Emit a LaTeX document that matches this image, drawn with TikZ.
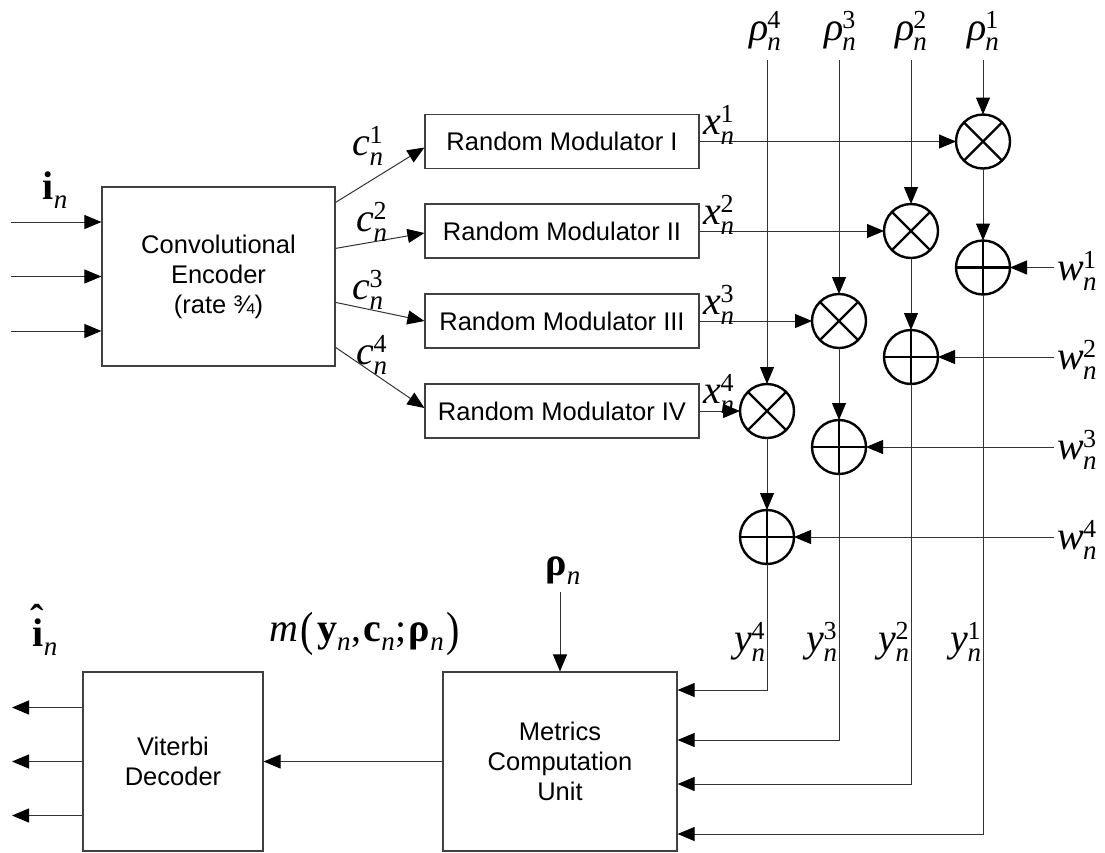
\documentclass[tikz,border=0pt]{standalone}
\usepackage{graphicx}
\usepackage{fontspec}
\setmainfont{Liberation Serif}
\setsansfont{Liberation Sans}
\usetikzlibrary{arrows.meta,calc}

% stacked superscript / subscript after a base symbol
\newcommand\supsub[2]{\makebox[0pt][l]{\raisebox{12pt}{\fontsize{26}{26}\selectfont #1}}%
  \raisebox{-10pt}{\fontsize{27}{27}\selectfont\itshape #2}}
\newcommand\subn{\raisebox{-9pt}{\fontsize{27}{27}\selectfont\itshape n}}
% italic base with index above and n below
\newcommand\lbl[3]{\textit{#1}\kern-1pt\supsub{#2}{#3}}
% bold base with subscript n
\newcommand\bsym[1]{\textbf{#1}\subn}
\newcommand\bigparen[1]{\raisebox{-4pt}{\scalebox{1}[1.2]{#1}}}

\begin{document}
\begin{tikzpicture}[x=1pt,y=-1pt,
  wire/.style={draw=black!80, line width=1pt},
  arr/.style={wire, -{Triangle[length=17pt,width=14pt,color=black]}},
  blk/.style={draw=black!75, line width=1.2pt, align=center, inner sep=0pt,
    font=\sffamily\fontsize{25.5}{30}\selectfont},
  mult/.style={circle, draw, line width=2.4pt, minimum size=54pt, inner sep=0pt, outer sep=0pt,
    path picture={\draw[line width=2.4pt]
      (path picture bounding box.north west)--(path picture bounding box.south east)
      (path picture bounding box.north east)--(path picture bounding box.south west);}},
  add/.style={circle, draw, line width=2.4pt, minimum size=54pt, inner sep=0pt, outer sep=0pt,
    path picture={\draw[line width=2.4pt]
      (path picture bounding box.north)--(path picture bounding box.south)
      (path picture bounding box.west)--(path picture bounding box.east);}},
  lab/.style={inner sep=0pt, font=\fontsize{40}{44}\selectfont}]

\useasboundingbox (0,0) rectangle (1105,852);

% ---- encoder and modulators
\node[blk, minimum width=233pt, minimum height=179pt] (enc) at (218.5,276.5)
  {Convolutional\\Encoder\\(rate ¾)};
\node[blk, minimum width=274pt, minimum height=54pt] (mod1) at (562,141.5) {Random Modulator I};
\node[blk, minimum width=274pt, minimum height=54pt] (mod2) at (562,231) {Random Modulator II};
\node[blk, minimum width=274pt, minimum height=54pt] (mod3) at (562,321) {Random Modulator III};
\node[blk, minimum width=274pt, minimum height=54pt] (mod4) at (562,411) {Random Modulator IV};

% ---- multipliers and adders
\node[mult] (m1) at (983,141.5) {};
\node[mult] (m2) at (911,231) {};
\node[mult] (m3) at (839,321) {};
\node[mult] (m4) at (767,411) {};
\node[add] (a1) at (983,267.5) {};
\node[add] (a2) at (911,357) {};
\node[add] (a3) at (839,447) {};
\node[add] (a4) at (767,537) {};

% ---- receiver side
\node[blk, minimum width=234pt, minimum height=179pt] (mcu) at (560,761.5)
  {Metrics\\Computation\\Unit};
\node[blk, minimum width=180pt, minimum height=179pt] (vd) at (173,761.5)
  {Viterbi\\Decoder};

% ---- free ends and corners
\coordinate (in1) at (11,222);
\coordinate (in2) at (11,276.5);
\coordinate (in3) at (11,331);
\coordinate (out1) at (12,707.5);
\coordinate (out2) at (12,761.5);
\coordinate (out3) at (12,815.5);
\coordinate (r1) at (983,60);
\coordinate (r2) at (911,60);
\coordinate (r3) at (839,60);
\coordinate (r4) at (767,60);
\coordinate (w1) at (1054,267.5);
\coordinate (w2) at (1054,357);
\coordinate (w3) at (1054,447);
\coordinate (w4) at (1054,537);
\coordinate (t4) at (767,690);
\coordinate (t3) at (839,740);
\coordinate (t2) at (911,784);
\coordinate (t1) at (983,834);
\coordinate (rn) at (560,592);

% ---- connectors
\draw[arr] (in1) -- (enc.west |- in1);
\draw[arr] (in2) -- (enc.west);
\draw[arr] (in3) -- (enc.west |- in3);

\draw[arr] ($(enc.north east)+(0,16)$) -- ($(mod1.west)+(0,6)$);
\draw[arr] ($(enc.north east)+(0,62)$) -- ($(mod2.west)+(0,2)$);
\draw[arr] ($(enc.north east)+(0,116)$) -- (mod3.west);
\draw[arr] ($(enc.north east)+(0,161)$) -- ($(mod4.west)+(0,-3)$);

\draw[arr] (mod1.east) -- (m1.west);
\draw[arr] (mod2.east) -- (m2.west);
\draw[arr] (mod3.east) -- (m3.west);
\draw[arr] (mod4.east) -- (m4.west);

\draw[arr] (r1) -- (m1.north);
\draw[arr] (r2) -- (m2.north);
\draw[arr] (r3) -- (m3.north);
\draw[arr] (r4) -- (m4.north);

\draw[arr] (m1.south) -- (a1.north);
\draw[arr] (m2.south) -- (a2.north);
\draw[arr] (m3.south) -- (a3.north);
\draw[arr] (m4.south) -- (a4.north);

\draw[arr] (w1) -- (a1.east);
\draw[arr] (w2) -- (a2.east);
\draw[arr] (w3) -- (a3.east);
\draw[arr] (w4) -- (a4.east);

\draw[arr] (a4.south) -- (t4) -- (mcu.east |- t4);
\draw[arr] (a3.south) -- (t3) -- (mcu.east |- t3);
\draw[arr] (a2.south) -- (t2) -- (mcu.east |- t2);
\draw[arr] (a1.south) -- (t1) -- (mcu.east |- t1);

\draw[arr] (rn) -- (mcu.north);
\draw[arr] (mcu.west) -- (vd.east);

\draw[arr] (vd.west |- out1) -- (out1);
\draw[arr] (vd.west) -- (out2);
\draw[arr] (vd.west |- out3) -- (out3);

% ---- labels
\node[lab] (lr4) at (765,31) {\lbl{ρ}{4}{n}};
\node[lab] (lr3) at (840,31) {\lbl{ρ}{3}{n}};
\node[lab] (lr2) at (911,31) {\lbl{ρ}{2}{n}};
\node[lab] (lr1) at (983,31) {\lbl{ρ}{1}{n}};

\node[lab] (lx1) at (719,125) {\lbl{x}{1}{n}};
\node[lab] (lx2) at (719,215) {\lbl{x}{2}{n}};
\node[lab] (lx3) at (719,305) {\lbl{x}{3}{n}};
\node[lab] (lx4) at (719,394) {\lbl{x}{4}{n}};

\node[lab] (lc1) at (368,146) {\lbl{c}{1}{n}};
\node[lab] (lc2) at (372,222) {\lbl{c}{2}{n}};
\node[lab] (lc3) at (368,290) {\lbl{c}{3}{n}};
\node[lab] (lc4) at (372,355) {\lbl{c}{4}{n}};

\node[lab] (lw1) at (1077,271) {\lbl{w}{1}{n}};
\node[lab] (lw2) at (1077,360) {\lbl{w}{2}{n}};
\node[lab] (lw3) at (1077,450) {\lbl{w}{3}{n}};
\node[lab] (lw4) at (1077,540) {\lbl{w}{4}{n}};

\node[lab] (ly4) at (750,642) {\lbl{y}{4}{n}};
\node[lab] (ly3) at (822,642) {\lbl{y}{3}{n}};
\node[lab] (ly2) at (894,642) {\lbl{y}{2}{n}};
\node[lab] (ly1) at (966,642) {\lbl{y}{1}{n}};

\node[lab] (lin) at (55,190) {\bsym{i}};
\node[lab] (lout) at (45,630)
  {\makebox[0pt][l]{\kern-2pt\raisebox{14pt}{\bfseries ˆ}}\bsym{i}};
\node[lab] (lrho) at (563,571) {\bsym{ρ}};
\node[lab] (lm) at (365,634)
  {\textit{m}\kern2pt\bigparen{(}\kern3pt\bsym{y}\kern1pt,\kern2pt\bsym{c}\kern1pt;\kern2pt\bsym{ρ}\kern3pt\bigparen{)}};

\end{tikzpicture}
\end{document}
